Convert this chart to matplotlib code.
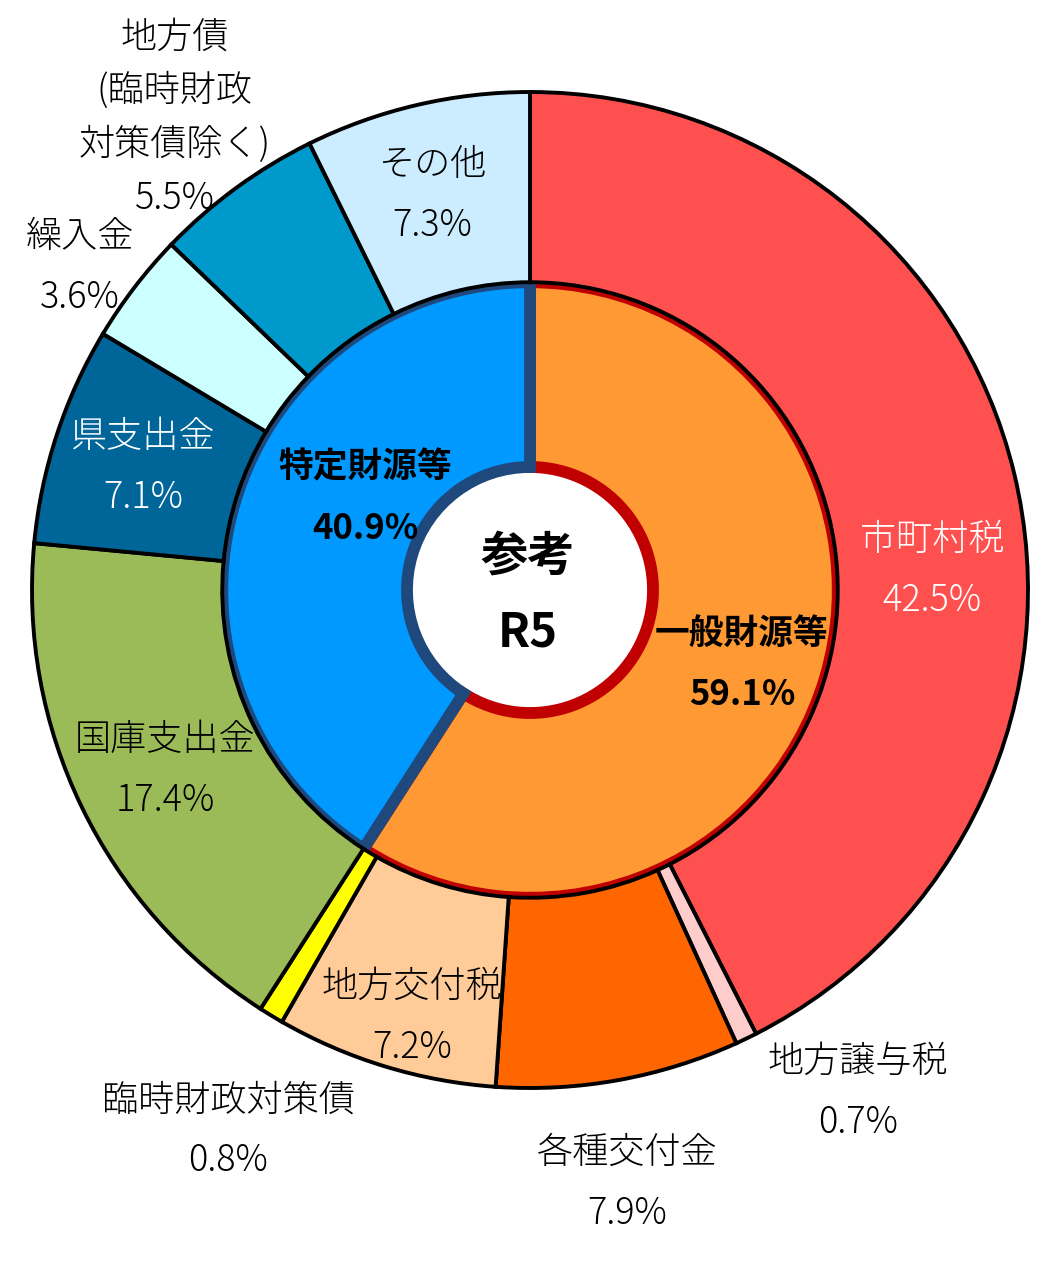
import matplotlib
matplotlib.use("Agg")
import matplotlib.pyplot as plt

plt.rcParams['font.family'] = ['Noto Sans CJK JP', 'DejaVu Sans']

# outer ring: clockwise from 12 o'clock
outer_labels = ['市町村税', '地方譲与税', '各種交付金', '地方交付税', '臨時財政対策債',
                '国庫支出金', '県支出金', '繰入金', '地方債\n(臨時財政\n対策債除く)', 'その他']
outer_values = [42.5, 0.7, 7.9, 7.2, 0.8, 17.4, 7.1, 3.6, 5.5, 7.3]
outer_colors = ['#FF5050', '#FFCCCC', '#FF6600', '#FFCC99', '#FFFF00',
                '#9BBB59', '#006699', '#CCFFFF', '#0099CC', '#CCECFF']

# inner ring
inner_labels = ['一般財源等', '特定財源等']
inner_values = [59.1, 40.9]
inner_colors = ['#FF9933', '#0099FF']
inner_edges = ['#C00000', '#1F497D']

W, H = 1055, 1286
cx, cy, R = 530, 590, 498


def px(x, y):
    return (x - cx) / R, (cy - y) / R


fig = plt.figure(figsize=(W / 100, H / 100), dpi=100)
ax = fig.add_axes([0, 0, 1, 1])

r_hole = 0.247
r_mid = 0.618

inner, _ = ax.pie(inner_values, radius=r_mid, startangle=90, counterclock=False,
                  colors=inner_colors,
                  wedgeprops=dict(width=r_mid - r_hole, linewidth=8.5))
for w, ec in zip(inner, inner_edges):
    w.set_edgecolor(ec)

ax.pie(outer_values, radius=1.0, startangle=90, counterclock=False,
       colors=outer_colors,
       wedgeprops=dict(width=1.0 - r_mid, edgecolor='black', linewidth=2.8))

# pie() resets the limits, so set them afterwards
ax.set_xlim(-cx / R, (W - cx) / R)
ax.set_ylim(-(H - cy) / R, cy / R)
ax.set_aspect('equal')
ax.axis('off')

# label positions (pixel centres of the name line) and text colours
label_pos = [(932, 540), (858, 1062), (627, 1153), (412, 987), (228, 1100),
             (165, 740), (143, 437), (80, 237), (175, 37), (432, 165)]
label_col = ['white', 'black', 'black', 'black', 'black',
             'black', 'white', 'black', 'black', 'black']
fs = 26
for name, val, (x, y), col in zip(outer_labels, outer_values, label_pos, label_col):
    lines = name.split('\n')
    for i, line in enumerate(lines):
        ax.text(*px(x, y + i * 54), line, ha='center', va='center',
                fontsize=fs, color=col, fontweight='light')
    yv = y + (len(lines) - 1) * 54 + (61 if len(lines) == 1 else 54)
    ax.text(*px(x, yv), f'{val}%', ha='center', va='center', fontsize=fs,
            color=col, fontweight='light')

inner_pos = [(742, 633), (365, 467)]
for name, val, (x, y) in zip(inner_labels, inner_values, inner_pos):
    ax.text(*px(x, y), name, ha='center', va='center', fontsize=25,
            fontweight='bold', color='black')
    ax.text(*px(x, y + 61), f'{val}%', ha='center', va='center', fontsize=25,
            fontweight='bold', color='black')

ax.text(*px(528, 557), '参考', ha='center', va='center', fontsize=34,
        fontweight='bold')
ax.text(*px(528, 632), 'R5', ha='center', va='center', fontsize=34,
        fontweight='bold')

fig.savefig('out.png', dpi=100)
